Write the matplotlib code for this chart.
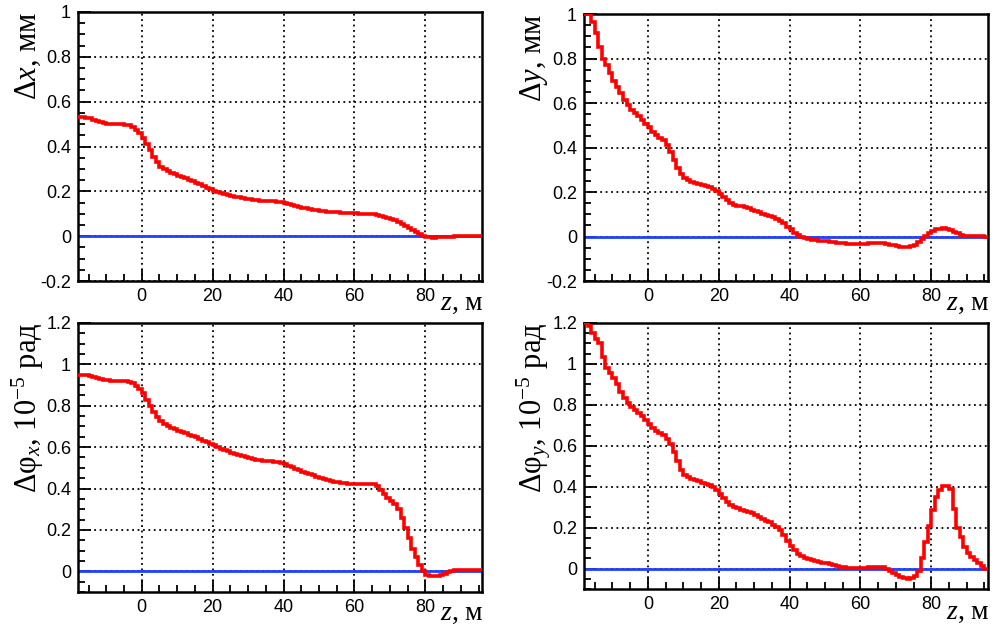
import numpy as np
import matplotlib
matplotlib.use("Agg")
import matplotlib.pyplot as plt
from matplotlib.ticker import MultipleLocator

plt.rcParams['mathtext.fontset'] = 'custom'
plt.rcParams['mathtext.rm'] = 'Liberation Serif'
plt.rcParams['mathtext.it'] = 'Liberation Serif:italic'

# bin edges along z, m (1 m bins)
z_edges = np.arange(-18, 97, 1)

# dx, mm
dx = [0.53, 0.53, 0.528, 0.525, 0.52, 0.515, 0.508, 0.503, 0.50, 0.50,
      0.50, 0.50, 0.50, 0.498, 0.495, 0.485, 0.475, 0.46, 0.44, 0.41,
      0.385, 0.355, 0.33, 0.31, 0.30, 0.29, 0.283, 0.276, 0.27, 0.264,
      0.258, 0.251, 0.245, 0.238, 0.231, 0.224, 0.217, 0.21, 0.203, 0.198,
      0.193, 0.188, 0.184, 0.18, 0.177, 0.174, 0.17, 0.167, 0.165, 0.163,
      0.161, 0.159, 0.158, 0.157, 0.156, 0.155, 0.154, 0.152, 0.148, 0.143,
      0.138, 0.134, 0.13, 0.127, 0.124, 0.121, 0.118, 0.116, 0.114, 0.112,
      0.11, 0.108, 0.107, 0.106, 0.105, 0.104, 0.103, 0.102, 0.102, 0.101,
      0.101, 0.101, 0.10, 0.098, 0.095, 0.09, 0.085, 0.08, 0.075, 0.07,
      0.062, 0.053, 0.044, 0.035, 0.026, 0.017, 0.009, 0.003, -0.003, -0.005,
      -0.006, -0.005, -0.004, -0.003, -0.002, -0.002, -0.001, 0.0, 0.0, 0.0,
      0.0, 0.0, 0.0, 0.0]

# dy, mm
dy = [1.0, 1.0, 0.965, 0.913, 0.853, 0.80, 0.77, 0.735, 0.70, 0.67,
      0.645, 0.615, 0.59, 0.57, 0.555, 0.54, 0.525, 0.505, 0.49, 0.47,
      0.455, 0.445, 0.432, 0.41, 0.38, 0.345, 0.31, 0.28, 0.262, 0.252,
      0.246, 0.24, 0.236, 0.232, 0.227, 0.221, 0.213, 0.204, 0.192, 0.178,
      0.163, 0.15, 0.143, 0.138, 0.135, 0.131, 0.126, 0.12, 0.114, 0.108,
      0.102, 0.097, 0.091, 0.086, 0.08, 0.072, 0.06, 0.045, 0.032, 0.018,
      0.008, -0.003, -0.008, -0.012, -0.014, -0.016, -0.018, -0.02, -0.022, -0.024,
      -0.026, -0.028, -0.029, -0.031, -0.032, -0.033, -0.033, -0.033, -0.033, -0.032,
      -0.031, -0.03, -0.029, -0.029, -0.031, -0.034, -0.037, -0.04, -0.043, -0.045,
      -0.046, -0.046, -0.044, -0.038, -0.026, -0.012, 0.003, 0.015, 0.025, 0.032,
      0.036, 0.037, 0.035, 0.03, 0.022, 0.014, 0.008, 0.004, 0.003, 0.002,
      0.002, 0.001, 0.001, 0.0]

# dphi_x, 1e-5 rad
dphix = [0.948, 0.948, 0.947, 0.945, 0.941, 0.936, 0.931, 0.926, 0.923, 0.922,
         0.922, 0.921, 0.92, 0.918, 0.914, 0.908, 0.897, 0.881, 0.86, 0.83,
         0.80, 0.77, 0.745, 0.725, 0.71, 0.70, 0.693, 0.686, 0.68, 0.674,
         0.668, 0.661, 0.654, 0.647, 0.64, 0.632, 0.624, 0.616, 0.608, 0.60,
         0.593, 0.586, 0.579, 0.573, 0.567, 0.562, 0.557, 0.552, 0.548, 0.544,
         0.54, 0.537, 0.535, 0.533, 0.531, 0.529, 0.526, 0.523, 0.518, 0.51,
         0.502, 0.495, 0.488, 0.482, 0.476, 0.47, 0.464, 0.458, 0.452, 0.446,
         0.441, 0.437, 0.433, 0.43, 0.427, 0.425, 0.423, 0.422, 0.421, 0.421,
         0.422, 0.424, 0.424, 0.42, 0.41, 0.395, 0.375, 0.355, 0.34, 0.325,
         0.30, 0.26, 0.21, 0.16, 0.11, 0.07, 0.03, 0.0, -0.018, -0.023,
         -0.024, -0.022, -0.018, -0.012, -0.005, 0.002, 0.006, 0.008, 0.008, 0.007,
         0.007, 0.006, 0.005, 0.004]

# dphi_y, 1e-5 rad
dphiy = [1.2, 1.183, 1.15, 1.12, 1.10, 1.036, 0.979, 0.955, 0.93, 0.90,
         0.864, 0.835, 0.807, 0.79, 0.775, 0.758, 0.743, 0.725, 0.705, 0.688,
         0.673, 0.663, 0.652, 0.635, 0.61, 0.57, 0.525, 0.48, 0.455, 0.445,
         0.438, 0.432, 0.426, 0.42, 0.414, 0.407, 0.398, 0.385, 0.365, 0.345,
         0.325, 0.31, 0.30, 0.294, 0.288, 0.283, 0.277, 0.27, 0.26, 0.252,
         0.243, 0.233, 0.225, 0.215, 0.205, 0.19, 0.165, 0.135, 0.11, 0.09,
         0.072, 0.06, 0.052, 0.046, 0.04, 0.036, 0.032, 0.029, 0.026, 0.021,
         0.017, 0.012, 0.009, 0.006, 0.004, 0.004, 0.004, 0.004, 0.005, 0.005,
         0.006, 0.007, 0.008, 0.008, 0.006, -0.002, -0.012, -0.022, -0.032, -0.04,
         -0.047, -0.05, -0.048, -0.035, -0.01, 0.05, 0.13, 0.21, 0.285, 0.35,
         0.385, 0.405, 0.405, 0.39, 0.29, 0.2, 0.155, 0.105, 0.075, 0.055,
         0.04, 0.025, 0.01, 0.0]

panels = [
    (dx, (-0.2, 1.0), r"$\Delta x$, мм", [0.0782, 0.5525, 0.4053, 0.4284], 29),
    (dy, (-0.2, 1.0), r"$\Delta y$, мм", [0.5858, 0.5525, 0.4052, 0.4252], 29),
    (dphix, (-0.1, 1.2), r"$\Delta$φ$_x$, 10$^{\mathrm{-5}}$ рад", [0.0782, 0.0573, 0.4053, 0.4284], 28),
    (dphiy, (-0.1, 1.2), r"$\Delta$φ$_y$, 10$^{\mathrm{-5}}$ рад", [0.5858, 0.0621, 0.4052, 0.4236], 30),
]

fig = plt.figure(figsize=(9.97, 6.28), dpi=100)

for vals, ylim, ylabel, pos, zoff in panels:
    ax = fig.add_axes(pos)
    ax.axhline(0, color='#2040ff', lw=2.0, zorder=2)
    ax.stairs(vals, z_edges, baseline=None, color='red', lw=2.6, zorder=3)
    ax.set_xlim(-18, 96)
    ax.set_ylim(*ylim)

    ax.xaxis.set_major_locator(MultipleLocator(20))
    ax.xaxis.set_minor_locator(MultipleLocator(5))
    ax.yaxis.set_major_locator(MultipleLocator(0.2))
    ax.yaxis.set_minor_locator(MultipleLocator(0.05))
    ax.tick_params(which='both', direction='in', top=False, right=False,
                   labelsize=13, width=1.3)
    ax.tick_params(which='major', length=9, pad=5)
    ax.tick_params(which='minor', length=5)
    for lab in ax.get_xticklabels() + ax.get_yticklabels():
        lab.set_fontfamily('Liberation Sans')
    ax.yaxis.set_major_formatter(plt.FuncFormatter(lambda v, p: f"{v:g}"))
    ax.grid(True, which='major', color='black', ls=(0, (1, 2)), lw=1.3)
    for s in ax.spines.values():
        s.set_linewidth(1.8)

    ax.text(-0.124, 1.0, ylabel, transform=ax.transAxes, rotation=90,
            ha='center', va='top', fontsize=22, family='Liberation Serif')
    ax.annotate(r"$z$, м", xy=(1.0, 0.0), xycoords='axes fraction',
                xytext=(2, -zoff), textcoords='offset pixels',
                ha='right', va='baseline', fontsize=20, family='Liberation Serif')

fig.savefig("out.png", dpi=100)
